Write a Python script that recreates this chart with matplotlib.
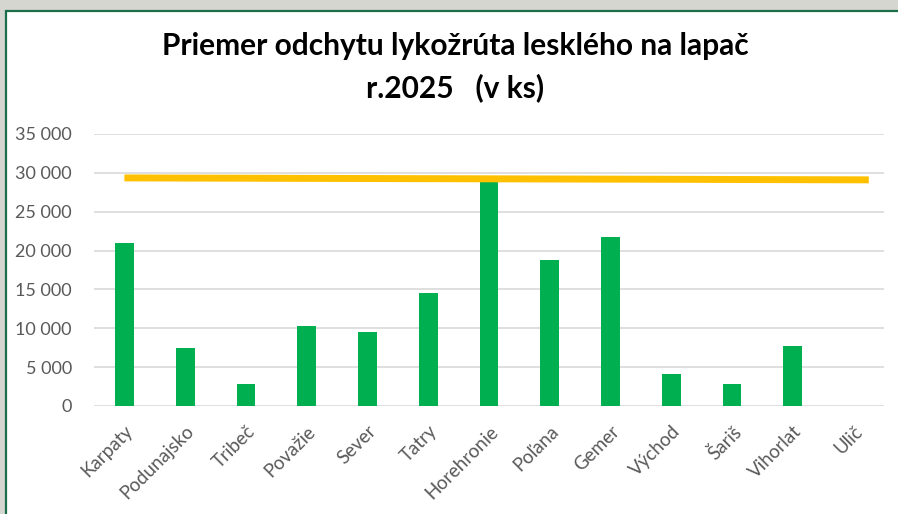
#!/usr/bin/env python3
"""Priemer odchytu lykožrúta lesklého na lapač, r.2025."""

import matplotlib.pyplot as plt
import matplotlib.patches as patches
import numpy as np

# Data
categories = ["Karpaty", "Podunajsko", "Tribeč", "Považie", "Sever", "Tatry",
              "Horehronie", "Poľana", "Gemer", "Východ", "Šariš", "Vihorlat", "Ulič"]
catch_avg = [21000, 7450, 2800, 10350, 9500, 14600, 29000, 18800, 21700,
             4100, 2800, 7700, 0]
line_values = [29350, 29320, 29290, 29260, 29230, 29200, 29170, 29130, 29100]
y_ticks = [0, 5000, 10000, 15000, 20000, 25000, 30000, 35000]

plt.rcParams["font.family"] = ["Lato", "DejaVu Sans"]

fig = plt.figure(figsize=(8.98, 5.14), dpi=100)
fig.patch.set_facecolor("#d5d6cf")

# white panel with dark green frame
panel = patches.Rectangle((6 / 898, -0.01), 1.0, 1 - 11 / 514 + 0.01,
                          transform=fig.transFigure, facecolor="white",
                          edgecolor="#1b6e47", linewidth=1.6, zorder=-5)
fig.patches.append(panel)

ax = fig.add_axes([94 / 898, 1 - 406 / 514, 790 / 898, 272 / 514])
ax.set_facecolor("none")

x = np.arange(len(categories))
ax.bar(x, catch_avg, width=0.31, color="#00b050", zorder=2)

# orange reference line
line_x = np.linspace(0, len(categories) - 0.75, len(line_values))
ax.plot(line_x, line_values, color="#ffc000", linewidth=5, zorder=3,
        solid_capstyle="butt")

ax.set_xlim(-0.5, len(categories) - 0.5)
ax.set_ylim(0, 35000)
ax.set_yticks(y_ticks)
ax.set_yticklabels([f"{v:,}".replace(",", " ") for v in y_ticks],
                   fontsize=13, color="#595959")
ax.set_xticks(x)
ax.set_xticklabels(categories, rotation=45, ha="right", va="top",
                   rotation_mode="anchor", fontsize=13.5, color="#595959")
ax.tick_params(axis="y", length=0, pad=16)
ax.tick_params(axis="x", length=0, pad=12)
ax.grid(axis="y", color="#d9d9d9", linewidth=1.2)
ax.set_axisbelow(True)
for s in ax.spines.values():
    s.set_visible(False)

fig.text(0.507, 1 - 46 / 514, "Priemer odchytu lykožrúta lesklého na lapač",
         ha="center", va="center", fontsize=21.5, fontweight="bold", color="black")
fig.text(0.507, 1 - 88 / 514, "r.2025   (v ks)",
         ha="center", va="center", fontsize=21.5, fontweight="bold", color="black")

plt.savefig("out.png", dpi=100, facecolor=fig.get_facecolor())
